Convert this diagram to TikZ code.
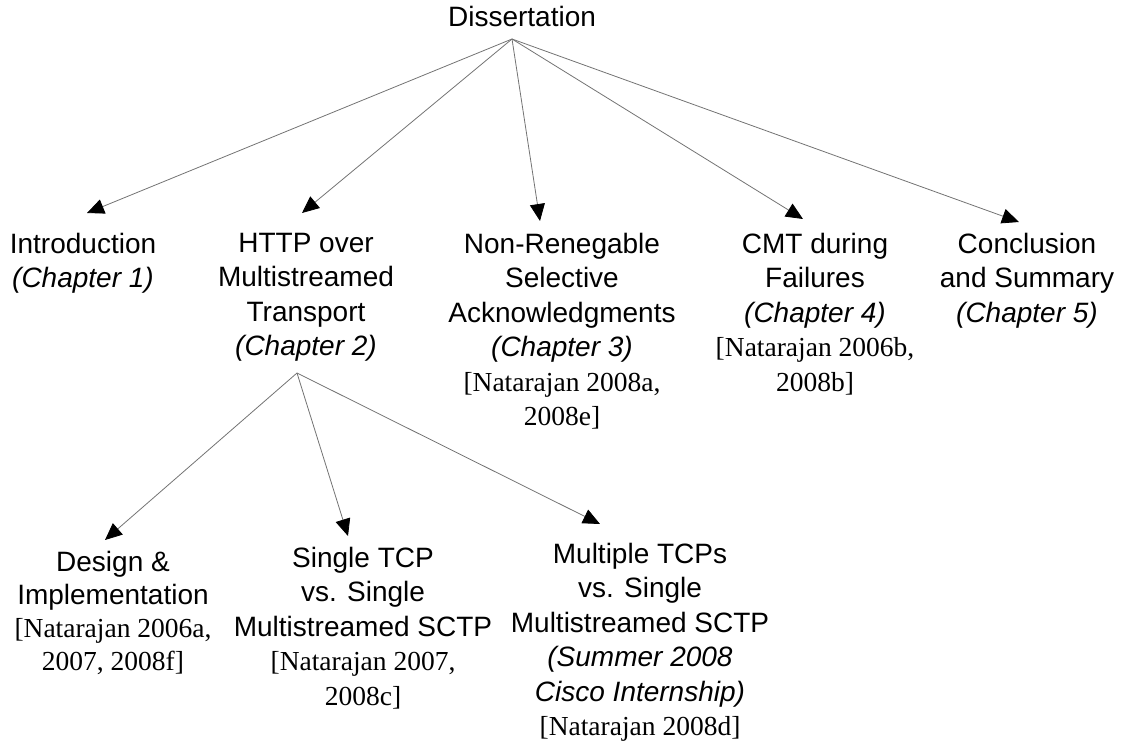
\documentclass[tikz,border=0pt]{standalone}
\usepackage{fontspec}
\setmainfont{Liberation Sans}
\newfontfamily\tms{Liberation Serif}
\usetikzlibrary{arrows.meta}
\tikzset{
  lbl/.style={anchor=north, inner sep=0pt, align=center, font=\fontsize{28}{34.5}\selectfont},
  lbltight/.style={anchor=north, inner sep=0pt, align=center, font=\fontsize{28}{33}\selectfont},
  conn/.style={draw=black!55, line width=0.8pt, -{Triangle[length=17pt,width=15pt,color=black]}}
}
\newcommand{\cit}[1]{{\tms\fontsize{27.5}{34.5}\selectfont #1}}
\begin{document}
\begin{tikzpicture}[x=1pt,y=-1pt]
\useasboundingbox (0,0) rectangle (1125,742);
% nodes
\node[lbl] (diss) at (522,5.6) {Dissertation};
\node[lbl] (intro) at (83,232.6) {Introduction\\\textit{(Chapter 1)}};
\node[lbl] (http) at (306,232.6) {HTTP over\\Multistreamed\\Transport\\\textit{(Chapter 2)}};
\node[lbl] (nrs) at (562,232.6) {Non-Renegable\\Selective\\Acknowledgments\\\textit{(Chapter 3)}\\\cit{[Natarajan 2008a,}\\\cit{2008e]}};
\node[lbl] (cmt) at (815,232.6) {CMT during\\Failures\\\textit{(Chapter 4)}\\\cit{[Natarajan 2006b,}\\\cit{2008b]}};
\node[lbl] (concl) at (1027,232.6) {Conclusion\\and Summary\\\textit{(Chapter 5)}};
\node[lbltight] (design) at (113,550.6) {Design \&\\Implementation\\\cit{[Natarajan 2006a,}\\\cit{2007, 2008f]}};
\node[lbl] (single) at (363,546.6) {Single TCP\\vs. Single\\Multistreamed SCTP\\\cit{[Natarajan 2007,}\\\cit{2008c]}};
\node[lbl] (multi) at (640,542.6) {Multiple TCPs\\vs. Single\\Multistreamed SCTP\\\textit{(Summer 2008}\\\textit{Cisco Internship)}\\\cit{[Natarajan 2008d]}};
% connector end points
\coordinate (dA) at (512,39);
\coordinate (hA) at (297,373);
\coordinate (tIntro) at (87,213);
\coordinate (tHttp) at (302,213);
\coordinate (tNrs) at (540,221);
\coordinate (tCmt) at (803,219);
\coordinate (tConcl) at (1019,222);
\coordinate (tDesign) at (105,540);
\coordinate (tSingle) at (348,536);
\coordinate (tMulti) at (600,524);
% connectors
\draw[conn] (dA) -- (tIntro);
\draw[conn] (dA) -- (tHttp);
\draw[conn] (dA) -- (tNrs);
\draw[conn] (dA) -- (tCmt);
\draw[conn] (dA) -- (tConcl);
\draw[conn] (hA) -- (tDesign);
\draw[conn] (hA) -- (tSingle);
\draw[conn] (hA) -- (tMulti);
\end{tikzpicture}
\end{document}
